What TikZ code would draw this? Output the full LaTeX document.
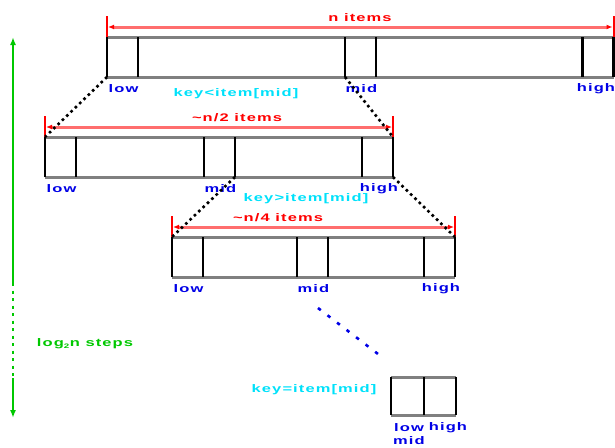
\documentclass[tikz,border=0pt]{standalone}
\usepackage{fontspec}
\setmainfont{Liberation Sans}
\newfontfamily\lblfont[UprightFont=* Bold, FakeStretch=1.5, LetterSpace=10]{Liberation Sans}
\usetikzlibrary{arrows.meta}
\definecolor{lblue}{RGB}{0,0,230}
\definecolor{lcyan}{RGB}{0,225,250}
\definecolor{lgreen}{RGB}{0,200,0}
\definecolor{lred}{RGB}{255,0,0}
\definecolor{lpink}{RGB}{255,110,110}
\tikzset{
  txt/.style={inner sep=0pt, font=\lblfont\fontsize{11}{13}\selectfont},
  lbl/.style={txt, text=lblue},
  keylbl/.style={txt, text=lcyan},
  dimlbl/.style={txt, text=lred},
  rail/.style={draw=black!50, line width=3pt},
  bar/.style={draw=black, line width=2.2pt},
  dimline/.style={draw=lpink, line width=3pt, {Latex[length=6pt,width=5pt,fill=lred,color=lred]}-{Latex[length=6pt,width=5pt,fill=lred,color=lred]}},
  tick/.style={draw=lred, line width=2pt},
  link/.style={draw=black, line width=2.6pt, dash pattern=on 2.6pt off 3.4pt},
  bluelink/.style={draw=lblue, line width=2.6pt, dash pattern=on 3.5pt off 8.5pt},
  steparrow/.style={draw=lgreen, line width=2.2pt},
}
% #1 name, #2 left x, #3 mid-cell left x, #4 right x, #5 top y, #6 bottom y, #7 high label x
\newcommand\myarray[7]{%
  \coordinate (#1tl) at (#2,#5);
  \coordinate (#1tr) at (#4,#5);
  \coordinate (#1bl) at (#2,#6);
  \coordinate (#1br) at (#4,#6);
  \coordinate (#1ml) at (#3,#6);
  \coordinate (#1mr) at (#3+31,#6);
  \draw[rail] (#1tl) -- (#1tr);
  \draw[rail] (#1bl) -- (#1br);
  \foreach \xx in {#2,#2+31,#3,#3+31,#4-31,#4} \draw[bar] (\xx,#5) -- (\xx,#6);
  \node[lbl] (#1low) at (#2+16.5,#6+11.5) {low};
  \node[lbl] (#1mid) at (#3+16.5,#6+11.5) {mid};
  \node[lbl] (#1high) at (#7,#6+11.5) {high};
}
% #1 name, #2 left x, #3 right x, #4 line y
\newcommand\mydim[4]{%
  \coordinate (#1a) at (#2,#4-11);
  \coordinate (#1b) at (#2,#4+10);
  \coordinate (#1c) at (#3,#4-11);
  \coordinate (#1d) at (#3,#4+10);
  \coordinate (#1l) at (#2+1,#4);
  \coordinate (#1r) at (#3-1,#4);
  \draw[dimline] (#1l) -- (#1r);
  \draw[tick] (#1a) -- (#1b);
  \draw[tick] (#1c) -- (#1d);
}
\begin{document}
\begin{tikzpicture}[x=1pt,y=-1pt]
\useasboundingbox (0,0) rectangle (615,447);
% arrays
\myarray{A}{107}{345}{613.5}{37}{77}{596}
\myarray{B}{45}{204}{393}{137}{177}{379}
\myarray{C}{172}{297}{455}{237}{277}{441}
% dimension lines
\mydim{DA}{107}{613.5}{27}
\mydim{DB}{45}{393}{127}
\mydim{DC}{172}{455}{227}
\node[dimlbl] (nA) at (360,18) {n items};
\node[dimlbl] (nB) at (237,118) {\textasciitilde n/2 items};
\node[dimlbl] (nC) at (278,218) {\textasciitilde n/4 items};
% key labels
\node[keylbl] (kA) at (236,94) {key<item[mid]};
\node[keylbl] (kB) at (306,199) {key>item[mid]};
\node[keylbl] (kD) at (314,390) {key=item[mid]};
% last array
\coordinate (Dtl) at (391,377);
\coordinate (Dtr) at (456,377);
\coordinate (Dbl) at (391,415);
\coordinate (Dbr) at (456,415);
\coordinate (Dmt) at (424,377);
\coordinate (Dmb) at (424,415);
\draw[rail] (Dtl) -- (Dtr);
\draw[rail] (Dbl) -- (Dbr);
\draw[bar] (Dtl) -- (Dbl);
\draw[bar] (Dmt) -- (Dmb);
\draw[bar] (Dtr) -- (Dbr);
\node[lbl] (Dlow) at (409,428) {low};
\node[lbl] (Dhigh) at (448,428) {high};
\node[lbl] (Dmid) at (409,441) {mid};
% dotted links
\draw[link] (Abl) -- (Btl);
\draw[link] (Aml) -- (Btr);
\draw[link] (Bmr) -- (Ctl);
\draw[link] (Bbr) -- (Ctr);
\coordinate (bl1) at (318,308);
\coordinate (bl2) at (378,354);
\draw[bluelink] (bl1) -- (bl2);
% steps arrow
\coordinate (g1) at (13,37);
\coordinate (g2) at (13,283);
\coordinate (g3) at (13,378);
\coordinate (g4) at (13,418);
\draw[steparrow, {Latex[length=8pt,width=6pt]}-] (g1) -- (g2);
\draw[steparrow, dash pattern=on 3pt off 4.5pt] (g2) -- (g3);
\draw[steparrow, -{Latex[length=8pt,width=6pt]}] (g3) -- (g4);
\node[txt, text=lgreen] (steps) at (85,344) {log\textsubscript{\fontsize{6.5}{7}\selectfont 2}n steps};
\end{tikzpicture}
\end{document}
